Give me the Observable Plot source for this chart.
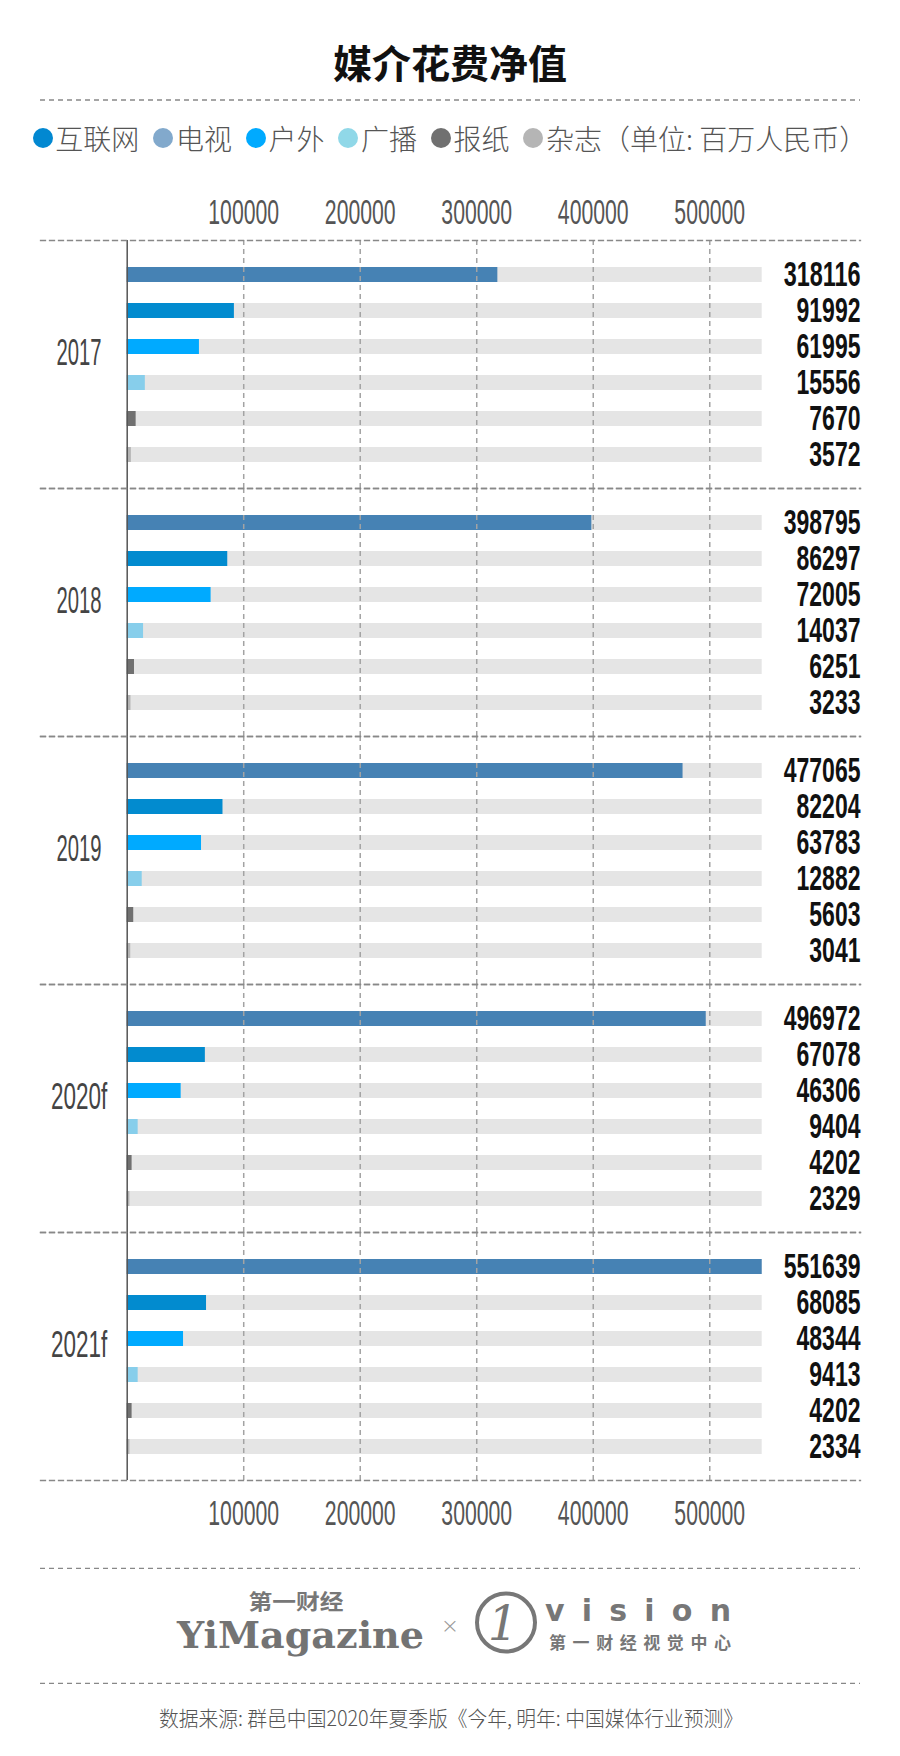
<!DOCTYPE html>
<html>
<head>
<meta charset="utf-8">
<script src="https://cdn.jsdelivr.net/npm/d3@7"></script>
<script src="https://cdn.jsdelivr.net/npm/@observablehq/plot@0.6"></script>
<style>
  html, body { margin: 0; padding: 0; background: #fff; }
  #page { position: relative; width: 900px; height: 1756px; overflow: hidden;
          font-family: "Noto Sans CJK SC", "Noto Sans", sans-serif; }
  #header { position: absolute; left: 0; top: 0; }
  #legend { position: absolute; left: 0; top: 118px; width: 900px; height: 40px;
            display: flex; justify-content: center; align-items: center; }
  .item { display: flex; align-items: center; margin: 0 7px; }
  .dot { width: 20px; height: 20px; border-radius: 50%; margin-right: 2.5px; flex: none; }
  .lab { font-size: 28px; font-weight: 300; color: #555; line-height: 40px; white-space: nowrap; }
  #chart { position: absolute; left: 0; top: 170px; }
  #footer { position: absolute; left: 0; top: 1556px; }
</style>
</head>
<body>
<div id="page">
  <svg id="header" width="900" height="110"></svg>
  <div id="legend"></div>
  <div id="chart"></div>
  <svg id="footer" width="900" height="200"></svg>
</div>
<script>
// ---- data ----
const title = "媒介花费净值";
const years = ["2017", "2018", "2019", "2020f", "2021f"];
const media = ["互联网", "电视", "户外", "广播", "报纸", "杂志"];
const unitNote = "（单位: 百万人民币）";
const internet  = [318116, 398795, 477065, 496972, 551639];
const tv        = [91992, 86297, 82204, 67078, 68085];
const outdoor   = [61995, 72005, 63783, 46306, 48344];
const radio     = [15556, 14037, 12882, 9404, 9413];
const newspaper = [7670, 6251, 5603, 4202, 4202];
const magazine  = [3572, 3233, 3041, 2329, 2334];
const xTicks = [100000, 200000, 300000, 400000, 500000];
const source = "数据来源: 群邑中国2020年夏季版《今年, 明年: 中国媒体行业预测》";

// ---- styles ----
const barColors = ["#4682b4", "#028bcf", "#00aaff", "#87ceeb", "#707070", "#b4b4b4"];
const legendColors = ["#0288d1", "#82a9cc", "#00aaff", "#90d8e8", "#707070", "#b5b5b5"];
const trackMax = 545000;
const numFont = "'Liberation Sans Narrow','Liberation Sans','DejaVu Sans Condensed',sans-serif";
const dash = "5,4";

// ---- header ----
const header = d3.select("#header");
header.append("text")
  .attr("x", 450).attr("y", 61)
  .attr("text-anchor", "middle").attr("dominant-baseline", "central")
  .attr("font-family", "'Noto Sans CJK SC', sans-serif")
  .attr("font-size", 39).attr("font-weight", 700).attr("fill", "#111")
  .text(title);
header.append("line")
  .attr("x1", 40).attr("x2", 860).attr("y1", 100).attr("y2", 100)
  .attr("stroke", "#888").attr("stroke-width", 1.3).attr("stroke-dasharray", dash);

// ---- legend ----
const legend = d3.select("#legend");
media.forEach((m, i) => {
  const item = legend.append("div").attr("class", "item");
  item.append("div").attr("class", "dot").style("background", legendColors[i]);
  item.append("span").attr("class", "lab").text(i === media.length - 1 ? m + unitNote : m);
});

// ---- chart ----
const series = [internet, tv, outdoor, radio, newspaper, magazine];
const rows = years.flatMap((year, i) =>
  media.map((m, j) => ({year, media: m, value: series[j][i]})));

const chart = Plot.plot({
  width: 900,
  height: 1362,
  marginTop: 69,
  marginBottom: 51,
  marginLeft: 40,
  marginRight: 40,
  style: {fontFamily: numFont, background: "transparent", overflow: "visible"},
  x: {domain: [0, trackMax], range: [126.7, 761.7], clamp: true},
  y: {domain: media, paddingInner: 0.589, paddingOuter: 0.7, align: 0.5, axis: null},
  fy: {domain: years, padding: 0, axis: null},
  color: {domain: media, range: barColors},
  marks: [
    Plot.barX(rows, {x: () => trackMax, y: "media", fy: "year", fill: "#e5e5e5"}),
    Plot.barX(rows, {x: "value", y: "media", fy: "year", fill: "media"}),
    Plot.ruleX(xTicks, {stroke: "#a3a3a3", strokeWidth: 1.5, strokeDasharray: dash}),
    Plot.ruleX([0], {stroke: "#555", strokeWidth: 1.5}),
    Plot.frame({anchor: "top", stroke: "#888", strokeWidth: 1.3, strokeDasharray: dash}),
    Plot.frame({anchor: "bottom", stroke: "#888", strokeWidth: 1.3, strokeDasharray: dash}),
    Plot.axisX(xTicks, {anchor: "top", label: null, tickSize: 0, tickPadding: 17,
      tickFormat: d3.format("d"), fontSize: 35, color: "#555"}),
    Plot.axisX(xTicks, {anchor: "bottom", label: null, tickSize: 0, tickPadding: 20,
      tickFormat: d3.format("d"), fontSize: 35, color: "#555"}),
    Plot.text(years, {fy: d => d, text: d => d, frameAnchor: "left", dx: 38.5,
      textAnchor: "middle", lineAnchor: "bottom", fontSize: 37, fill: "#444"}),
    Plot.text(rows, {y: "media", fy: "year", text: d => String(d.value),
      frameAnchor: "right", textAnchor: "end", fontSize: 35, fontWeight: "bold", fill: "#111"})
  ]
});
document.getElementById("chart").append(chart);

// condensed number look
function condense(sel, perChar) {
  sel.each(function () {
    const n = this.textContent.length;
    this.setAttribute("textLength", n * perChar);
    this.setAttribute("lengthAdjust", "spacingAndGlyphs");
  });
}
const root = d3.select(chart);
root.selectAll('g[aria-label="x-axis tick label"] text').attr("fill", "#555");
condense(root.selectAll('g[aria-label="x-axis tick label"] text'), 11.8);
const textGroups = chart.querySelectorAll('g[aria-label="text"]');
if (textGroups.length >= 2) {
  condense(d3.select(textGroups[0]).selectAll("text"), 11.25);
  condense(d3.select(textGroups[1]).selectAll("text"), 12.8);
}

// ---- footer ----
const footer = d3.select("#footer");
[12.3, 127.3].forEach(y => footer.append("line")
  .attr("x1", 40).attr("x2", 860).attr("y1", y).attr("y2", y)
  .attr("stroke", "#888").attr("stroke-width", 1.3).attr("stroke-dasharray", dash));
const logoGray = "#777";
footer.append("text").attr("x", 296).attr("y", 44)
  .attr("text-anchor", "middle").attr("dominant-baseline", "central")
  .attr("font-family", "'Noto Sans CJK SC', sans-serif").attr("font-weight", 700)
  .attr("font-size", 21).attr("fill", logoGray)
  .attr("textLength", 95).attr("lengthAdjust", "spacingAndGlyphs")
  .text("第一财经");
footer.append("text").attr("x", 177).attr("y", 92.3)
  .attr("font-family", "'DejaVu Serif', serif").attr("font-weight", 700)
  .attr("font-size", 37).attr("fill", "#737373")
  .attr("textLength", 247).attr("lengthAdjust", "spacingAndGlyphs")
  .text("YiMagazine");
footer.append("text").attr("x", 450).attr("y", 69)
  .attr("text-anchor", "middle").attr("dominant-baseline", "central")
  .attr("font-family", "'DejaVu Sans', sans-serif").attr("font-weight", 200)
  .attr("font-size", 22).attr("fill", "#999").text("×");
footer.append("circle").attr("cx", 506).attr("cy", 66.5).attr("r", 29)
  .attr("fill", "none").attr("stroke", logoGray).attr("stroke-width", 4);
footer.append("text").attr("x", 503).attr("y", 83.5)
  .attr("text-anchor", "middle")
  .attr("font-family", "'DejaVu Serif', serif").attr("font-weight", 400).attr("font-style", "italic")
  .attr("font-size", 48).attr("fill", logoGray).text("1");
footer.append("text").attr("x", 545).attr("y", 65.3)
  .attr("font-family", "'DejaVu Sans', sans-serif").attr("font-weight", 700)
  .attr("font-size", 30).attr("fill", logoGray)
  .attr("textLength", 186).attr("lengthAdjust", "spacing")
  .text("vision");
footer.append("text").attr("x", 549).attr("y", 93)
  .attr("font-family", "'Noto Sans CJK SC', sans-serif").attr("font-weight", 700)
  .attr("font-size", 17).attr("fill", logoGray)
  .attr("textLength", 182).attr("lengthAdjust", "spacing")
  .text("第一财经视觉中心");
footer.append("text").attr("x", 451).attr("y", 160.7)
  .attr("text-anchor", "middle").attr("dominant-baseline", "central")
  .attr("font-family", "'Noto Sans CJK SC', sans-serif").attr("font-weight", 300)
  .attr("font-size", 21).attr("fill", "#555")
  .attr("textLength", 584).attr("lengthAdjust", "spacingAndGlyphs")
  .text(source);
</script>
</body>
</html>
